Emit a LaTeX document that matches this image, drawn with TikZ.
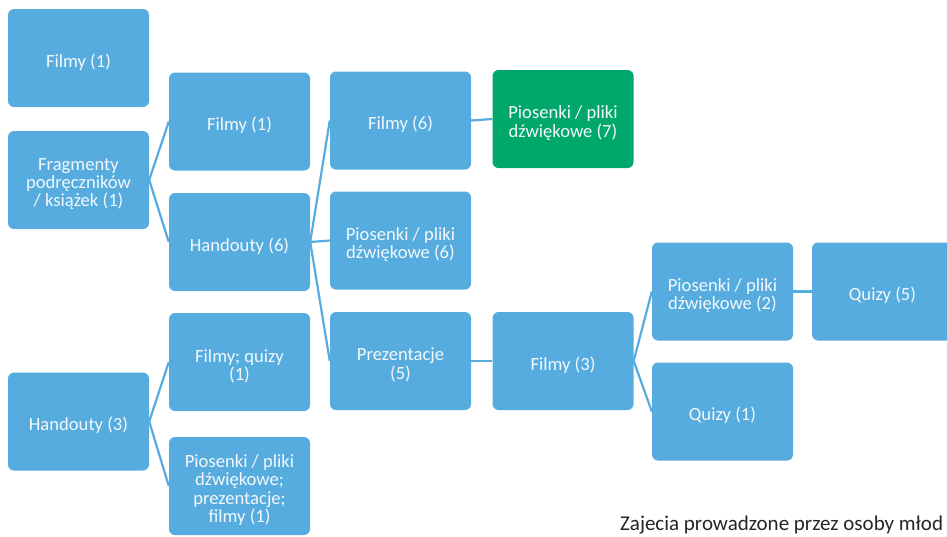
\documentclass[tikz,border=0pt]{standalone}
\usepackage{fontspec}
\setmainfont{Carlito}
\definecolor{boxblue}{HTML}{56ACDE}
\definecolor{boxgreen}{HTML}{00A86B}
\definecolor{boxtext}{HTML}{F2F8FC}
\tikzset{
  card/.style={rectangle, rounded corners=6pt, fill=boxblue, draw=none,
    minimum width=141pt, minimum height=98pt, inner sep=0pt},
  greencard/.style={card, fill=boxgreen},
  cardtext/.style={inner sep=0pt, align=center, text=boxtext,
    font=\fontsize{18.6}{18.3}\selectfont},
  link/.style={draw=boxblue, line width=2.2pt}
}
% \cardnode[style]{name}{x,y}{text}
\newcommand{\cardnode}[4][card]{%
  \node[#1] (#2) at (#3) {};
  \node[cardtext] (#2-t) at ([yshift=-4pt]#2.center) {#4};
}
\begin{document}
\begin{tikzpicture}[x=1pt,y=-1pt]
\useasboundingbox (0,0) rectangle (947,536);
\clip (0,0) rectangle (947,536);
% column 1
\cardnode{f1}{78.5,58}{Filmy (1)}
\cardnode{frag}{78.5,180}{Fragmenty\\podręczników\\/ książek (1)}
\cardnode{h3}{78.5,421.5}{Handouty (3)}
% column 2
\cardnode{f1b}{239.5,121.5}{Filmy (1)}
\cardnode{h6}{239.5,242}{Handouty (6)}
\cardnode{fq}{239.5,362}{Filmy; quizy\\(1)}
\cardnode{pp}{239.5,486}{Piosenki / pliki\\dźwiękowe;\\prezentacje;\\filmy (1)}
% column 3
\cardnode{f6}{400.5,120.5}{Filmy (6)}
\cardnode{p6}{400.5,240.5}{Piosenki / pliki\\dźwiękowe (6)}
\cardnode{prez}{400.5,361}{Prezentacje\\(5)}
% column 4
\cardnode[greencard]{gr}{563,119}{Piosenki / pliki\\dźwiękowe (7)}
\cardnode{f3}{563,361}{Filmy (3)}
% column 5
\cardnode{p2}{722.5,291.5}{Piosenki / pliki\\dźwiękowe (2)}
\cardnode{q1}{722.5,411.5}{Quizy (1)}
% column 6
\cardnode{q5}{882.5,291.5}{Quizy (5)}
% connectors
\draw[link] (frag.east) -- (f1b.west);
\draw[link] (frag.east) -- (h6.west);
\draw[link] (h3.east) -- (fq.west);
\draw[link] (h3.east) -- (pp.west);
\draw[link] (h6.east) -- (f6.west);
\draw[link] (h6.east) -- (p6.west);
\draw[link] (h6.east) -- (prez.west);
\draw[link] (f6.east) -- (gr.west);
\draw[link] (prez.east) -- (f3.west);
\draw[link] (f3.east) -- (p2.west);
\draw[link] (f3.east) -- (q1.west);
\draw[link] (p2.east) -- (q5.west);
% caption
\node[anchor=base west, inner sep=0pt, text=black!85, font=\fontsize{21}{24}\selectfont] (cap) at (620,530) {Zajecia prowadzone przez osoby młod};
\end{tikzpicture}
\end{document}
